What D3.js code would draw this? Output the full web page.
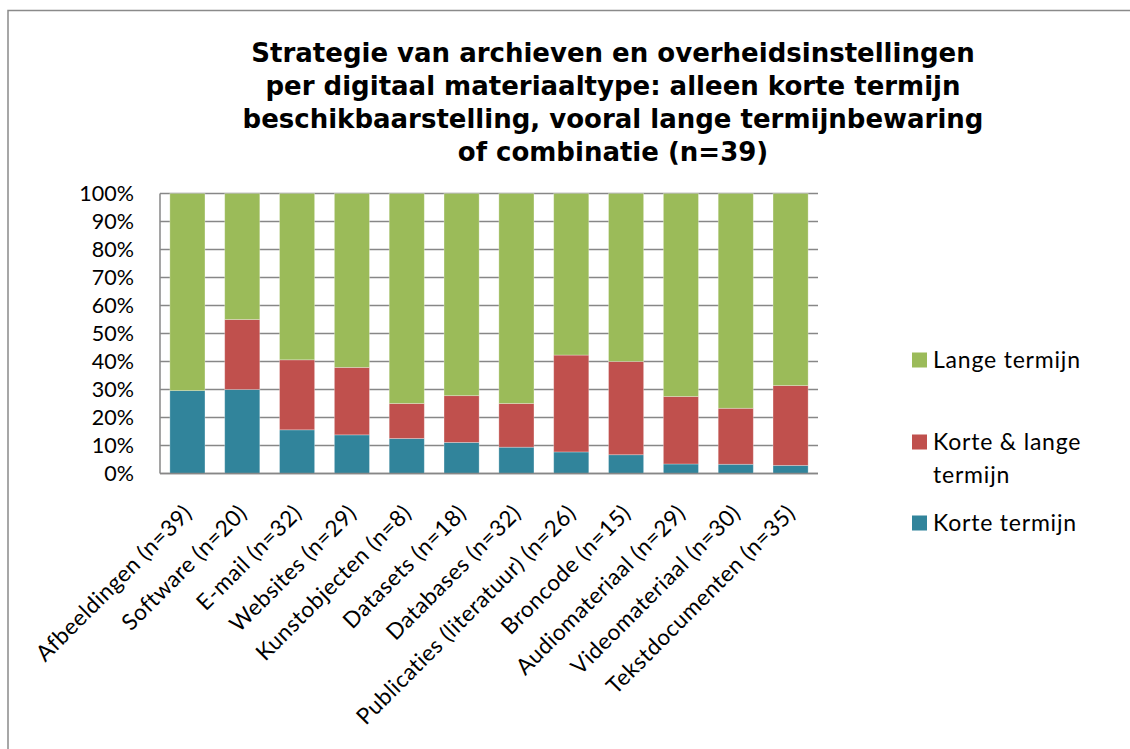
<!DOCTYPE html>
<html>
<head>
<meta charset="utf-8">
<script src="https://cdn.jsdelivr.net/npm/d3@7"></script>
<style>
  body { margin: 0; background: #fff; }
  svg { display: block; }
</style>
</head>
<body>
<div id="chart"></div>
<script>
// categories and stacked shares (percent)
var categories = ["Afbeeldingen (n=39)", "Software (n=20)", "E-mail (n=32)", "Websites (n=29)",
  "Kunstobjecten (n=8)", "Datasets (n=18)", "Databases (n=32)", "Publicaties (literatuur) (n=26)",
  "Broncode (n=15)", "Audiomateriaal (n=29)", "Videomateriaal (n=30)", "Tekstdocumenten (n=35)"]
var korte = [29.6, 30.0, 15.6, 13.8, 12.5, 11.1, 9.4, 7.7, 6.7, 3.4, 3.3, 2.9]
var korteLange = [0, 25.0, 25.0, 24.1, 12.5, 16.7, 15.6, 34.6, 33.3, 24.1, 20.0, 28.5]
var lange = korte.map(function(k, i){ return 100 - k - korteLange[i] })
var yTicks = [0, 10, 20, 30, 40, 50, 60, 70, 80, 90, 100]
var seriesNames = ["Korte termijn", "Korte & lange termijn", "Lange termijn"]
var seriesColors = ["#31849B", "#C0504D", "#9BBB59"]
var titleLines = ["Strategie van archieven en overheidsinstellingen",
  "per digitaal materiaaltype: alleen korte termijn",
  "beschikbaarstelling, vooral lange termijnbewaring",
  "of combinatie (n=39)"]

var width = 1130, height = 749
var margin = {top: 193.5, left: 160, right: 312, bottom: 275.5}
var labelFont = "Lato, 'Open Sans', sans-serif"

var svg = d3.select("#chart").append("svg")
    .attr("width", width)
    .attr("height", height)

// outer chart border (runs off the right and bottom of the picture)
svg.append("rect")
    .attr("x", 8).attr("y", 10.5)
    .attr("width", 1200).attr("height", 800)
    .attr("fill", "none")
    .attr("stroke", "#8a8a8a")
    .attr("stroke-width", 1.5)

var title = svg.append("text")
    .attr("text-anchor", "middle")
    .style("font-family", "'DejaVu Sans', Verdana, sans-serif")
    .style("font-weight", "bold")
    .style("font-size", "26px")
    .attr("fill", "#000")
title.selectAll("tspan")
    .data(titleLines)
    .enter().append("tspan")
    .attr("x", 613)
    .attr("y", function(d, i){ return 62 + i * 33 })
    .text(function(d){ return d })

var x = d3.scaleBand()
    .domain(categories)
    .range([margin.left, width - margin.right])
    .paddingInner(0.36)
    .paddingOuter(0.18)

var y = d3.scaleLinear()
    .domain([0, 100])
    .range([height - margin.bottom, margin.top])

// gridlines
svg.append("g")
    .selectAll("line")
    .data(yTicks)
    .enter().append("line")
    .attr("x1", margin.left).attr("x2", width - margin.right)
    .attr("y1", function(d){ return y(d) }).attr("y2", function(d){ return y(d) })
    .attr("stroke", "#878787")
    .attr("stroke-width", 1.4)

var rows = categories.map(function(c, i){
  return {cat: c, "Korte termijn": korte[i], "Korte & lange termijn": korteLange[i], "Lange termijn": lange[i]}
})
var stack = d3.stack().keys(seriesNames)(rows)

svg.append("g")
    .selectAll("g")
    .data(stack)
    .enter().append("g")
    .attr("fill", function(d, i){ return seriesColors[i] })
    .selectAll("rect")
    .data(function(d){ return d })
    .enter().append("rect")
    .attr("x", function(d){ return x(d.data.cat) })
    .attr("width", x.bandwidth())
    .attr("y", function(d){ return y(d[1]) })
    .attr("height", function(d){ return y(d[0]) - y(d[1]) })
    .attr("stroke", "rgba(255,255,255,0.35)")
    .attr("stroke-width", 0.8)

// axis lines
svg.append("line")
    .attr("x1", margin.left).attr("x2", margin.left)
    .attr("y1", y(100)).attr("y2", y(0))
    .attr("stroke", "#878787").attr("stroke-width", 1.5)
svg.append("line")
    .attr("x1", margin.left).attr("x2", width - margin.right)
    .attr("y1", y(0)).attr("y2", y(0))
    .attr("stroke", "#878787").attr("stroke-width", 1.5)

var yAxis = svg.append("g")
    .attr("transform", "translate(" + margin.left + ",0)")
    .call(d3.axisLeft(y).tickValues(yTicks).tickSize(0).tickPadding(26)
      .tickFormat(function(d){ return d + "%" }))
yAxis.select(".domain").remove()
yAxis.selectAll("text")
    .style("font-family", labelFont)
    .style("font-size", "21.5px")
    .attr("fill", "#000")

var xAxis = svg.append("g")
    .attr("transform", "translate(0," + y(0) + ")")
    .call(d3.axisBottom(x).tickSize(0))
xAxis.select(".domain").remove()
xAxis.selectAll("text")
    .style("font-family", labelFont)
    .style("font-size", "22.5px")
    .style("letter-spacing", "0.5px")
    .attr("fill", "#000")
    .attr("text-anchor", "end")
    .attr("dy", null)
    .attr("y", 0)
    .attr("transform", "translate(6,41) rotate(-45)")

// legend, top to bottom
var legendItems = [
  {lines: ["Lange termijn"], color: seriesColors[2], y: 360},
  {lines: ["Korte & lange", "termijn"], color: seriesColors[1], y: 442},
  {lines: ["Korte termijn"], color: seriesColors[0], y: 523}
]
var legend = svg.append("g")
var item = legend.selectAll("g")
    .data(legendItems)
    .enter().append("g")
    .attr("transform", function(d){ return "translate(912," + d.y + ")" })
item.append("rect")
    .attr("x", 0).attr("y", -7.5)
    .attr("width", 15).attr("height", 15)
    .attr("fill", function(d){ return d.color })
item.append("text")
    .style("font-family", labelFont)
    .style("font-size", "23px")
    .style("letter-spacing", "0.8px")
    .attr("fill", "#000")
    .selectAll("tspan")
    .data(function(d){ return d.lines })
    .enter().append("tspan")
    .attr("x", 21)
    .attr("y", function(d, i){ return 8 + i * 33 })
    .text(function(d){ return d })
</script>
</body>
</html>
